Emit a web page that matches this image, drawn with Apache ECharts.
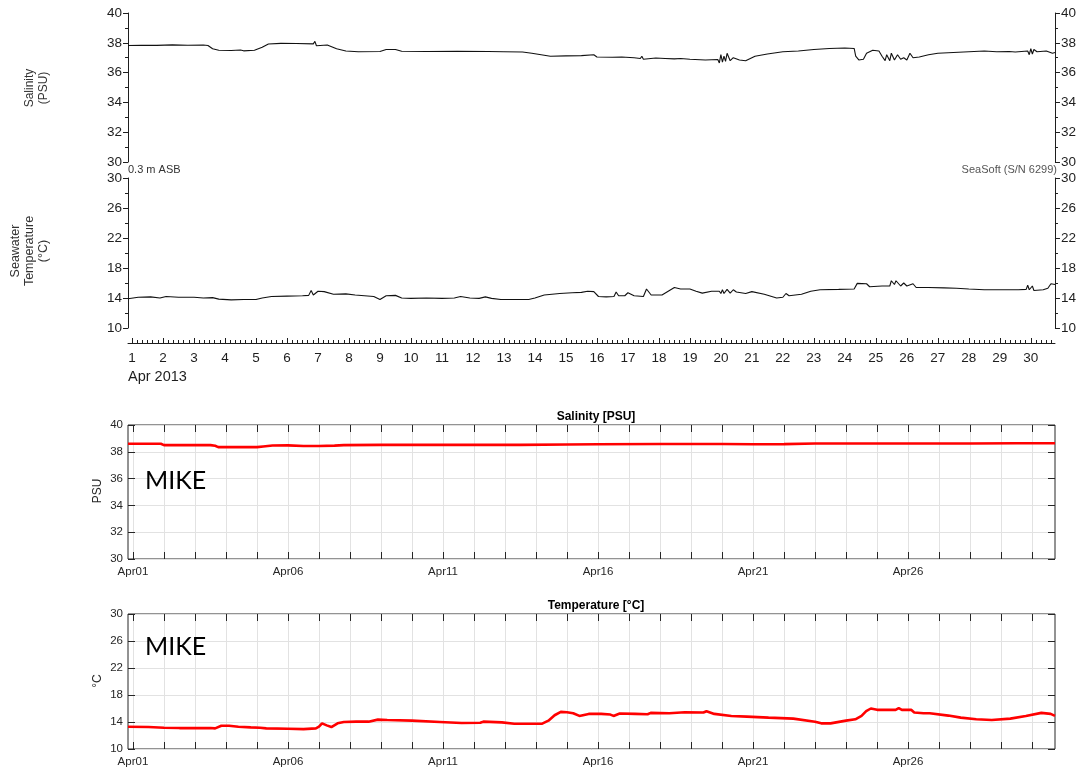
<!DOCTYPE html>
<html>
<head>
<meta charset="utf-8">
<script src="https://cdn.jsdelivr.net/npm/echarts@6/dist/echarts.min.js"></script>
<style>
html,body{margin:0;padding:0;background:#fff;}
#chart{width:1079px;height:769px;}
</style>
</head>
<body>
<div id="chart"></div>
<script>
// ---------- DATA (x = day of April 2013, y = value) ----------
const xRangeCTD = [0.87, 30.78];
const xRangeMIKE = [0.84, 30.74];

const dayTicks = [1,2,3,4,5,6,7,8,9,10,11,12,13,14,15,16,17,18,19,20,21,22,23,24,25,26,27,28,29,30];
const dayTickLabels = ['1','2','3','4','5','6','7','8','9','10','11','12','13','14','15','16','17','18','19','20','21','22','23','24','25','26','27','28','29','30'];
const mikeLabelDays = [1, 6, 11, 16, 21, 26];
const mikeLabels = ['Apr01', 'Apr06', 'Apr11', 'Apr16', 'Apr21', 'Apr26'];

const salinityCTD = [
 [0.87,37.82],[1.3,37.84],[1.8,37.83],[2.3,37.86],[2.8,37.84],[3.3,37.85],[3.45,37.82],[3.6,37.6],[3.8,37.5],
 [4.2,37.48],[4.5,37.52],[4.6,37.46],[4.95,37.5],[5.2,37.7],[5.4,37.92],[5.8,37.96],[6.3,37.95],[6.85,37.93],
 [6.9,38.1],[6.95,37.8],[7.0,37.9],[7.3,37.85],[7.6,37.6],[7.9,37.45],[8.3,37.4],[9.0,37.42],[9.2,37.55],
 [9.5,37.55],[9.7,37.43],[10.5,37.42],[11.5,37.43],[12.5,37.42],[13.0,37.4],[13.6,37.38],[13.9,37.3],
 [14.2,37.2],[14.5,37.1],[15.0,37.12],[15.5,37.14],[15.9,37.2],[16.0,37.05],[16.5,37.03],[16.8,37.05],
 [17.2,37.0],[17.4,36.95],[17.45,37.1],[17.5,36.9],[17.9,36.98],[18.2,36.95],[18.5,36.92],[18.7,36.95],
 [19.0,36.9],[19.5,36.85],[19.9,36.88],[19.95,36.65],[20.0,37.2],[20.05,36.7],[20.1,37.1],[20.15,36.75],
 [20.2,37.3],[20.3,36.8],[20.4,37.0],[20.6,36.85],[20.8,36.8],[21.1,37.1],[21.5,37.25],[22.0,37.4],
 [22.5,37.45],[23.0,37.55],[23.5,37.62],[24.0,37.65],[24.3,37.62],[24.35,37.1],[24.45,36.85],[24.6,36.9],
 [24.7,37.3],[24.9,37.5],[25.1,37.45],[25.2,37.1],[25.3,36.8],[25.35,37.2],[25.45,36.8],[25.5,37.3],
 [25.6,36.85],[25.7,37.2],[25.8,36.9],[25.9,37.0],[26.0,36.85],[26.1,37.3],[26.2,37.0],[26.4,37.05],
 [26.7,37.2],[27.0,37.3],[27.5,37.35],[28.0,37.4],[28.5,37.45],[28.9,37.4],[29.3,37.42],[29.5,37.38],
 [29.9,37.45],[29.95,37.2],[30.0,37.6],[30.05,37.25],[30.1,37.55],[30.2,37.4],[30.5,37.45],[30.7,37.3],[30.78,37.35]
];

const temperatureCTD = [
 [0.87,13.9],[1.2,14.1],[1.6,14.15],[1.9,14.0],[2.1,14.2],[2.5,14.1],[3.0,14.1],[3.3,14.0],[3.6,14.05],
 [3.8,13.85],[4.2,13.75],[4.6,13.8],[5.0,13.8],[5.2,14.0],[5.5,14.2],[6.0,14.25],[6.5,14.3],[6.7,14.35],
 [6.78,15.0],[6.85,14.4],[7.0,14.9],[7.2,14.85],[7.5,14.5],[7.9,14.55],[8.2,14.4],[8.5,14.3],[8.8,14.2],
 [9.0,13.8],[9.2,14.3],[9.5,14.35],[9.7,14.0],[10.0,13.95],[10.5,14.0],[11.0,13.95],[11.4,14.0],[11.6,14.2],
 [11.9,14.0],[12.2,13.95],[12.4,14.15],[12.6,13.95],[12.9,13.8],[13.5,13.8],[13.8,13.8],[14.0,14.0],
 [14.3,14.4],[14.8,14.6],[15.2,14.7],[15.5,14.75],[15.7,14.9],[15.9,14.85],[16.05,14.2],[16.3,14.15],
 [16.55,14.2],[16.62,14.8],[16.7,14.3],[16.9,14.3],[17.0,14.7],[17.2,14.3],[17.5,14.2],[17.6,15.2],
 [17.75,14.4],[18.1,14.4],[18.3,14.9],[18.5,15.4],[18.7,15.2],[19.0,15.2],[19.2,14.9],[19.4,14.65],
 [19.7,14.9],[19.95,14.9],[20.0,14.6],[20.05,15.1],[20.1,14.6],[20.2,15.15],[20.3,14.65],[20.4,15.1],
 [20.5,14.8],[20.8,14.6],[21.0,14.85],[21.4,14.5],[21.8,14.0],[22.0,14.1],[22.1,14.6],[22.2,14.3],
 [22.6,14.5],[22.9,14.9],[23.2,15.1],[23.8,15.15],[24.3,15.2],[24.4,15.95],[24.7,15.9],[24.8,15.5],
 [25.2,15.6],[25.45,15.6],[25.5,16.3],[25.6,15.8],[25.65,16.3],[25.8,15.6],[25.9,16.0],[26.0,15.6],
 [26.2,15.9],[26.3,15.4],[26.7,15.4],[27.2,15.35],[27.6,15.3],[28.0,15.2],[28.5,15.1],[29.0,15.1],
 [29.6,15.1],[29.85,15.15],[29.9,15.7],[29.95,15.1],[30.05,15.6],[30.1,15.0],[30.4,15.1],[30.55,15.3],
 [30.65,15.9],[30.78,15.8]
];

const salinityMIKE = [
 [0.84,38.6],[1.5,38.6],[1.9,38.6],[2.0,38.5],[2.5,38.5],[3.0,38.5],[3.5,38.5],[3.65,38.45],[3.75,38.35],
 [4.5,38.35],[5.0,38.35],[5.2,38.4],[5.5,38.47],[6.0,38.48],[6.5,38.43],[7.0,38.43],[7.5,38.46],[7.8,38.5],
 [9.0,38.52],[10.5,38.52],[12.0,38.52],[13.5,38.52],[15.0,38.55],[16.0,38.56],[18.0,38.58],[20.0,38.58],
 [21.0,38.56],[22.0,38.57],[23.0,38.62],[24.0,38.62],[26.0,38.62],[28.0,38.62],[29.5,38.64],[30.74,38.64]
];

const temperatureMIKE = [
 [0.84,13.3],[1.5,13.25],[2.0,13.15],[2.5,13.1],[3.0,13.1],[3.5,13.1],[3.65,13.05],[3.85,13.45],[4.1,13.45],
 [4.4,13.3],[4.8,13.2],[5.1,13.15],[5.3,13.05],[6.0,13.0],[6.5,12.95],[6.9,13.05],[7.0,13.3],[7.1,13.8],
 [7.25,13.5],[7.4,13.25],[7.6,13.8],[7.8,14.0],[8.2,14.05],[8.6,14.05],[8.9,14.35],[9.2,14.3],[10.0,14.2],
 [10.9,14.0],[11.6,13.85],[12.2,13.9],[12.3,14.05],[12.9,13.95],[13.3,13.75],[14.2,13.75],[14.4,14.2],
 [14.6,15.0],[14.8,15.5],[15.0,15.45],[15.2,15.3],[15.4,14.9],[15.7,15.2],[16.1,15.2],[16.4,15.1],
 [16.5,14.9],[16.7,15.25],[17.2,15.2],[17.6,15.15],[17.7,15.35],[18.3,15.3],[18.8,15.45],[19.4,15.4],
 [19.5,15.6],[19.75,15.2],[20.3,14.9],[20.8,14.8],[21.5,14.65],[22.3,14.5],[23.0,14.05],[23.2,13.8],
 [23.5,13.8],[24.0,14.2],[24.3,14.4],[24.5,14.9],[24.65,15.6],[24.8,16.0],[25.0,15.8],[25.6,15.8],
 [25.7,16.05],[25.8,15.8],[26.1,15.8],[26.2,15.4],[26.5,15.3],[26.7,15.3],[27.3,14.95],[27.7,14.65],
 [28.2,14.4],[28.7,14.3],[29.3,14.5],[29.8,14.9],[30.3,15.35],[30.6,15.2],[30.74,14.9]
];

// ---------- CHART ----------
const FONT = '"Liberation Sans", Arial, sans-serif';
const topInk = '#1e1e1e';
const mlInk = '#262626';
const gridGray = '#e2e2e2';

// 4-hour minor ticks for the CTD time axis
const minorDayTicks = [];
for (const d of dayTicks) { for (let k = 1; k < 6; k++) { const v = d + k / 6; if (v < xRangeCTD[1]) minorDayTicks.push(v); } }

function ctdY(grid, min, max, interval, pos) {
  return {
    type: 'value', gridIndex: grid, min: min, max: max, interval: interval, position: pos,
    axisLine: { show: true, lineStyle: { color: topInk, width: 1 } },
    axisTick: { show: true, inside: false, length: 5, lineStyle: { color: topInk } },
    minorTick: { show: true, splitNumber: 2, length: 3, lineStyle: { color: topInk } },
    axisLabel: { show: true, fontSize: 13.5, fontFamily: FONT, color: topInk, margin: 6, showMinLabel: true, showMaxLabel: true },
    splitLine: { show: false }
  };
}

function mikeY(grid, min, max, interval, pos, labels) {
  return {
    type: 'value', gridIndex: grid, min: min, max: max, interval: interval, position: pos,
    axisLine: { show: false },
    axisTick: { show: true, inside: true, length: 7, lineStyle: { color: mlInk } },
    axisLabel: { show: labels, fontSize: 11.5, fontFamily: FONT, color: mlInk, margin: 5, showMinLabel: true, showMaxLabel: true },
    splitLine: { show: labels, lineStyle: { color: gridGray, width: 1 } }
  };
}

function mikeX(grid, pos, labels) {
  return {
    type: 'value', gridIndex: grid, min: xRangeMIKE[0], max: xRangeMIKE[1], position: pos,
    axisLine: { show: false },
    axisTick: { show: true, inside: true, length: 7, customValues: dayTicks, lineStyle: { color: mlInk } },
    axisLabel: {
      show: labels, customValues: mikeLabelDays, fontSize: 11.5, fontFamily: FONT, color: mlInk, margin: 7,
      formatter: function (v) { const i = mikeLabelDays.indexOf(Math.round(v)); return i >= 0 ? mikeLabels[i] : ''; }
    },
    splitLine: { show: labels, lineStyle: { color: gridGray, width: 1 } }
  };
}

const MIKE_FONT = '25px Lato, "Open Sans", sans-serif';

const option = {
  backgroundColor: '#ffffff',
  animation: false,
  title: [
    { text: 'Salinity [PSU]', left: 591, top: 406, textAlign: 'center',
      textStyle: { fontSize: 12, fontWeight: 'bold', fontFamily: FONT, color: '#000' } },
    { text: 'Temperature [°C]', left: 591, top: 595, textAlign: 'center',
      textStyle: { fontSize: 12, fontWeight: 'bold', fontFamily: FONT, color: '#000' } }
  ],
  grid: [
    { left: 128, top: 13, width: 930, height: 149 },
    { left: 128, top: 178, width: 930, height: 150 },
    { left: 128, top: 425, width: 927, height: 134, show: true, borderColor: mlInk, borderWidth: 1, backgroundColor: 'transparent' },
    { left: 128, top: 614, width: 927, height: 135, show: true, borderColor: mlInk, borderWidth: 1, backgroundColor: 'transparent' }
  ],
  xAxis: [
    { type: 'value', gridIndex: 0, min: xRangeCTD[0], max: xRangeCTD[1], show: false },
    { type: 'value', gridIndex: 1, min: xRangeCTD[0], max: xRangeCTD[1], position: 'bottom', offset: 15,
      axisLine: { show: true, lineStyle: { color: topInk, width: 1 } },
      axisTick: { show: true, inside: true, length: 5, customValues: dayTicks, lineStyle: { color: topInk } },
      axisLabel: { show: true, customValues: dayTicks, fontSize: 13.5, fontFamily: FONT, color: topInk, margin: 8,
        formatter: function (v) { const i = dayTicks.indexOf(Math.round(v)); return i >= 0 ? dayTickLabels[i] : ''; } },
      splitLine: { show: false } },
    { type: 'value', gridIndex: 1, min: xRangeCTD[0], max: xRangeCTD[1], position: 'bottom', offset: 15,
      axisLine: { show: false },
      axisTick: { show: true, inside: true, length: 3, customValues: minorDayTicks, lineStyle: { color: topInk } },
      axisLabel: { show: false }, splitLine: { show: false } },
    mikeX(2, 'bottom', true),
    mikeX(2, 'top', false),
    mikeX(3, 'bottom', true),
    mikeX(3, 'top', false)
  ],
  yAxis: [
    ctdY(0, 30, 40, 2, 'left'),
    ctdY(0, 30, 40, 2, 'right'),
    ctdY(1, 10, 30, 4, 'left'),
    ctdY(1, 10, 30, 4, 'right'),
    mikeY(2, 30, 40, 2, 'left', true),
    mikeY(2, 30, 40, 2, 'right', false),
    mikeY(3, 10, 30, 4, 'left', true),
    mikeY(3, 10, 30, 4, 'right', false)
  ],
  series: [
    { type: 'line', name: 'Salinity (PSU)', xAxisIndex: 0, yAxisIndex: 0, data: salinityCTD, showSymbol: false,
      lineStyle: { color: '#111', width: 1.1 }, silent: true },
    { type: 'line', name: 'Seawater Temperature', xAxisIndex: 1, yAxisIndex: 2, data: temperatureCTD, showSymbol: false,
      lineStyle: { color: '#111', width: 1.1 }, silent: true },
    { type: 'line', name: 'MIKE Salinity', xAxisIndex: 3, yAxisIndex: 4, data: salinityMIKE, showSymbol: false,
      lineStyle: { color: '#ff0000', width: 2.6 }, silent: true },
    { type: 'line', name: 'MIKE Temperature', xAxisIndex: 5, yAxisIndex: 6, data: temperatureMIKE, showSymbol: false,
      lineStyle: { color: '#ff0000', width: 2.6 }, silent: true }
  ],
  graphic: [
    { type: 'text', x: 37, y: 88, rotation: Math.PI / 2, z: 100,
      style: { text: 'Salinity\n(PSU)', font: '12px ' + FONT, fill: '#333', align: 'center', verticalAlign: 'middle', textAlign: 'center', textVerticalAlign: 'middle', lineHeight: 14 } },
    { type: 'text', x: 30, y: 251, rotation: Math.PI / 2, z: 100,
      style: { text: 'Seawater\nTemperature\n(°C)', font: '12.5px ' + FONT, fill: '#333', align: 'center', verticalAlign: 'middle', textAlign: 'center', textVerticalAlign: 'middle', lineHeight: 14 } },
    { type: 'text', x: 128, y: 170, z: 100,
      style: { text: '0.3 m ASB', font: '11px ' + FONT, fill: '#333', align: 'left', verticalAlign: 'middle', textAlign: 'left', textVerticalAlign: 'middle' } },
    { type: 'text', x: 1057, y: 170, z: 100,
      style: { text: 'SeaSoft (S/N 6299)', font: '11px ' + FONT, fill: '#555', align: 'right', verticalAlign: 'middle', textAlign: 'right', textVerticalAlign: 'middle' } },
    { type: 'text', x: 128, y: 377, z: 100,
      style: { text: 'Apr 2013', font: '14.5px ' + FONT, fill: topInk, align: 'left', verticalAlign: 'middle', textAlign: 'left', textVerticalAlign: 'middle' } },
    { type: 'text', x: 145, y: 481, z: 100,
      style: { text: 'MIKE', font: MIKE_FONT, fill: '#000', align: 'left', verticalAlign: 'middle', textAlign: 'left', textVerticalAlign: 'middle' } },
    { type: 'text', x: 145, y: 647, z: 100,
      style: { text: 'MIKE', font: MIKE_FONT, fill: '#000', align: 'left', verticalAlign: 'middle', textAlign: 'left', textVerticalAlign: 'middle' } },
    { type: 'text', x: 98, y: 491, rotation: Math.PI / 2, z: 100,
      style: { text: 'PSU', font: '12px ' + FONT, fill: mlInk, align: 'center', verticalAlign: 'middle', textAlign: 'center', textVerticalAlign: 'middle' } },
    { type: 'text', x: 98, y: 681, rotation: Math.PI / 2, z: 100,
      style: { text: '°C', font: '12px ' + FONT, fill: mlInk, align: 'center', verticalAlign: 'middle', textAlign: 'center', textVerticalAlign: 'middle' } }
  ]
};

const chart = echarts.init(document.getElementById('chart'), null, { renderer: 'canvas' });
chart.setOption(option);
</script>
</body>
</html>
